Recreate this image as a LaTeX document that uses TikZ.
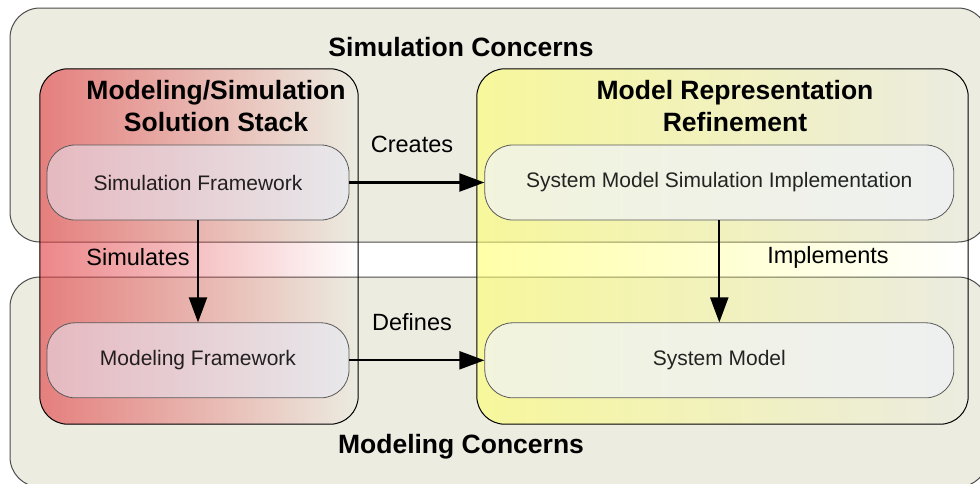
\documentclass[tikz,border=0pt]{standalone}
\usepackage{fontspec}
\setmainfont{Liberation Sans}
\usetikzlibrary{positioning, arrows.meta, fadings}

\definecolor{concernfill}{RGB}{236,236,225}
\definecolor{stackred}{RGB}{225,55,60}
\definecolor{refineyellow}{RGB}{255,255,110}
\definecolor{fwfill}{RGB}{230,232,246}
\definecolor{modelfill}{RGB}{240,243,249}

\tikzfading[name=fade right, left color=transparent!40, right color=transparent!100]

\begin{document}
\begin{tikzpicture}[
	x=1pt, y=-1pt,
	concern/.style={rectangle, draw=black!70, line width=1pt, fill=concernfill, rounded corners=30pt},
	column/.style={rectangle, inner sep=0pt, minimum height=355pt},
	framework/.style={rectangle, draw=black!65, line width=0.8pt, rounded corners=28pt, fill=fwfill, fill opacity=0.55, text opacity=0.85, minimum height=75pt, font=\fontsize{21}{25}\selectfont},
	areatitle/.style={align=center, inner sep=0pt, font=\fontsize{26.5}{32}\selectfont\bfseries},
	lbl/.style={inner sep=0pt, font=\fontsize{23.5}{28}\selectfont},
	>={Triangle[length=25pt, width=18pt]}
]
\useasboundingbox (0,0) rectangle (980,483);
\fill[white] (0,0) rectangle (980,483);

% the two concern areas
\node[concern, minimum width=978pt, minimum height=234pt] (simconcern) at (499,125) {};
\node[concern, minimum width=978pt, minimum height=210pt] (modconcern) at (499,382) {};

% the two columns, faded to the right
\node[column, minimum width=318pt] (stack) at (199,246.5) {};
\node[column, minimum width=491pt] (refine) at (722.5,246.5) {};
\fill[stackred, path fading=fade right, rounded corners=28pt] (stack.north west) rectangle (stack.south east);
\fill[refineyellow, path fading=fade right, rounded corners=28pt] (refine.north west) rectangle (refine.south east);
\draw[line width=1pt, rounded corners=28pt] (stack.north west) rectangle (stack.south east);
\draw[line width=1pt, rounded corners=28pt] (refine.north west) rectangle (refine.south east);

% frameworks and models
\node[framework, minimum width=302pt] (simfw) at (198,182.5) {Simulation Framework};
\node[framework, minimum width=302pt, below=102pt of simfw] (modfw) {Modeling Framework};
\node[framework, fill=modelfill, fill opacity=0.7, minimum width=469pt, right=135pt of simfw] (simimpl) {System Model Simulation Implementation};
\node[framework, fill=modelfill, fill opacity=0.7, minimum width=469pt, below=102pt of simimpl] (sysmodel) {System Model};

% titles
\node[areatitle] (simtitle) at (461,47) {Simulation Concerns};
\node[areatitle] (stacktitle) at (216,106) {Modeling/Simulation\\Solution Stack};
\node[areatitle] (refinetitle) at (735,106) {Model Representation\\Refinement};
\node[areatitle] (modtitle) at (461,447) {Modeling Concerns};

% relations
\node[lbl] (creates) at (412,144) {Creates};
\node[lbl] (simulates) at (138,257) {Simulates};
\node[lbl] (defines) at (412,322) {Defines};
\node[lbl] (implements) at (828,257) {Implements};

\draw[->, line width=2.2pt] (simfw.east) -- (simimpl.west);
\draw[->, line width=2.2pt] (modfw.east) -- (sysmodel.west);
\draw[->, line width=2.2pt] (simfw.south) -- (modfw.north);
\draw[->, line width=2.2pt] (simimpl.south) -- (sysmodel.north);

\end{tikzpicture}
\end{document}
